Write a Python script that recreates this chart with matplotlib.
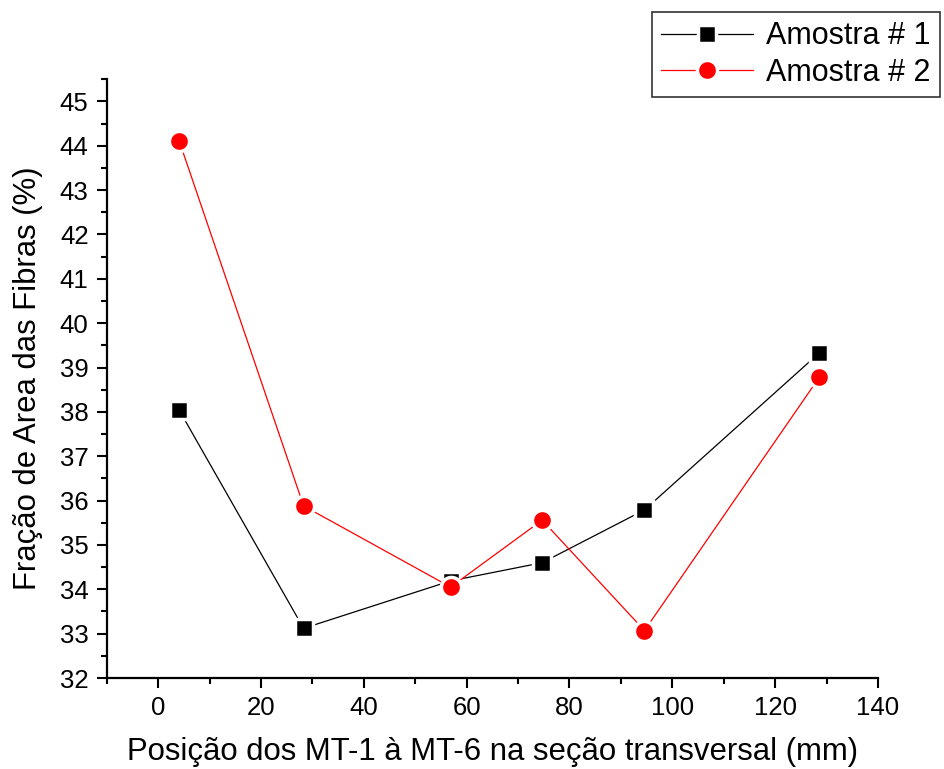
import numpy as np
import matplotlib
matplotlib.use("Agg")
import matplotlib.pyplot as plt

plt.rcParams['font.family'] = ['Liberation Sans', 'DejaVu Sans']

# positions (mm) and fiber area fraction (%)
pos = [4.1, 28.3, 56.9, 74.7, 94.6, 128.6]
amostra1 = [38.04, 33.12, 34.19, 34.60, 35.79, 39.33]
amostra2 = [44.11, 35.88, 34.05, 35.56, 33.07, 38.78]
labels = ['Amostra # 1', 'Amostra # 2']

fig = plt.figure(figsize=(9.44, 7.69), dpi=100)
ax = fig.add_axes([0.113, 0.1183, 0.817, 0.7787])

ax.plot(pos, amostra1, color='black', lw=0.9, marker='s', ms=13,
        mfc='black', mec='white', mew=2.5, label=labels[0])
ax.plot(pos, amostra2, color='red', lw=0.9, marker='o', ms=14.5,
        mfc='red', mec='white', mew=2.5, label=labels[1])

ax.set_xlim(-10, 140)
ax.set_ylim(32, 45.5)
ax.set_xticks(np.arange(0, 141, 20))
ax.set_xticks(np.arange(-10, 141, 10), minor=True)
ax.set_yticks(np.arange(32, 46, 1))
ax.set_yticks(np.arange(32, 45.6, 0.5), minor=True)

for s in ['top', 'right']:
    ax.spines[s].set_visible(False)
for s in ['left', 'bottom']:
    ax.spines[s].set_linewidth(1.6)

ax.tick_params(which='major', direction='out', length=7, width=1.5,
               labelsize=18.5, pad=6)
ax.tick_params(which='minor', direction='out', length=4, width=1.5)

ax.set_xlabel('Posição dos MT-1 à MT-6 na seção transversal (mm)', fontsize=22.4, labelpad=12)
ax.set_ylabel('Fração de Area das Fibras (%)', fontsize=22.4, labelpad=12)

leg = fig.legend(loc='upper right', bbox_to_anchor=(0.999, 0.988), fontsize=22,
                 frameon=True, fancybox=False, edgecolor='black',
                 handlelength=3.0, borderpad=0.3, labelspacing=0.2,
                 handletextpad=0.45, borderaxespad=0.1)
leg.get_frame().set_linewidth(1.2)

fig.savefig('out.png', dpi=100)
